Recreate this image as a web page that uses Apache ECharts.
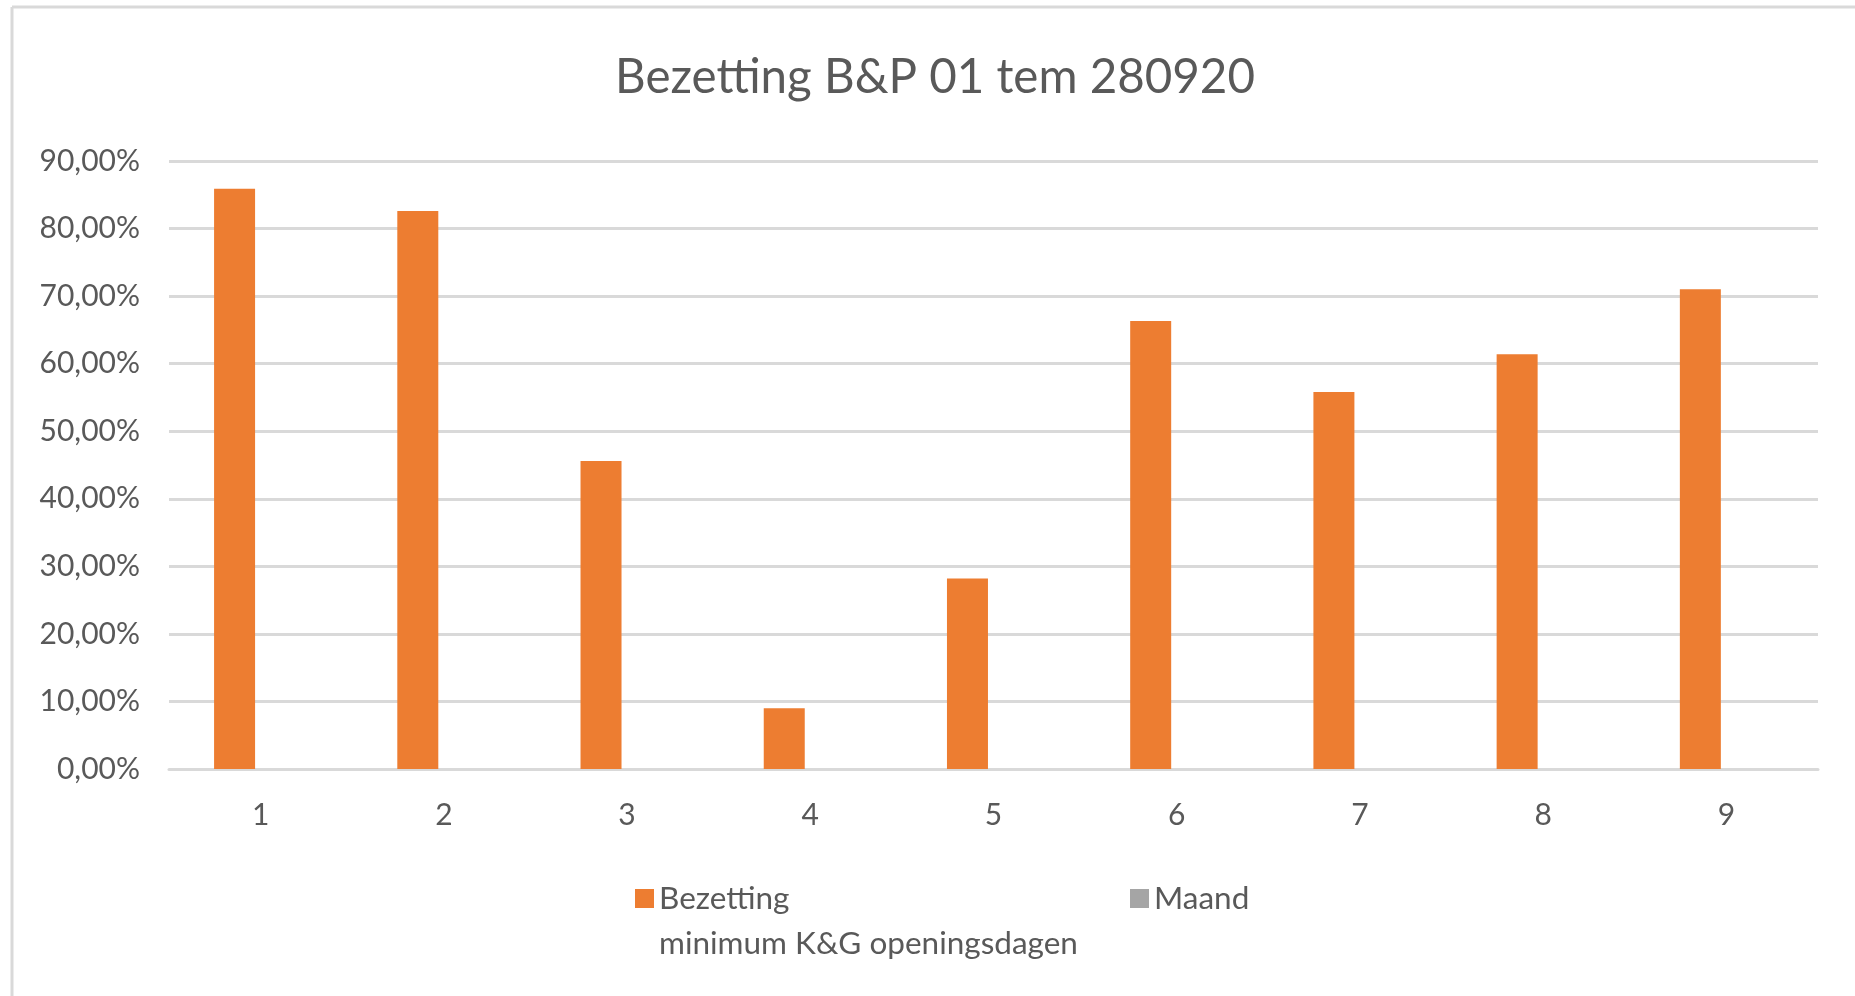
<!DOCTYPE html>
<html>
<head>
<meta charset="utf-8">
<script src="https://cdn.jsdelivr.net/npm/echarts@6/dist/echarts.min.js"></script>
<style>
html,body{margin:0;padding:0;background:#fff;}
#chart{width:1855px;height:996px;}
</style>
</head>
<body>
<div id="chart"></div>
<script>
const categories = ['1','2','3','4','5','6','7','8','9'];
const bezetting = [0.859, 0.826, 0.456, 0.090, 0.282, 0.663, 0.558, 0.614, 0.710];
const maand = [0, 0, 0, 0, 0, 0, 0, 0, 0];
const seriesNames = ['Bezetting\nminimum K&G openingsdagen', 'Maand'];
const titleText = 'Bezetting B&P 01 tem 280920';

const FONT = 'Lato';
const TXT = '#595959';
const GRID = '#d9d9d9';

const chart = echarts.init(document.getElementById('chart'));
chart.setOption({
  backgroundColor: '#ffffff',
  animation: false,
  title: {
    text: titleText,
    left: 930, top: 49, textAlign: 'center',
    textStyle: {fontFamily: FONT, fontSize: 47.5, fontWeight: 'normal', color: TXT}
  },
  graphic: [
    {type: 'line', shape: {x1: 12, y1: 7, x2: 1855, y2: 7}, style: {stroke: GRID, lineWidth: 3}, silent: true},
    {type: 'line', shape: {x1: 12, y1: 7, x2: 12, y2: 996}, style: {stroke: GRID, lineWidth: 3}, silent: true}
  ],
  legend: [
    {
      data: [seriesNames[0]],
      left: 635, top: 831, padding: 0,
      itemWidth: 19, itemHeight: 19, icon: 'rect',
      formatter: name => '\n' + name,
      textStyle: {fontFamily: FONT, fontSize: 31.5, color: TXT, lineHeight: 45}
    },
    {
      data: [seriesNames[1]],
      left: 1130, top: 876, padding: 0,
      itemWidth: 19, itemHeight: 19, icon: 'rect',
      textStyle: {fontFamily: FONT, fontSize: 31.5, color: TXT, lineHeight: 45}
    }
  ],
  grid: {left: 169, right: 37, top: 161, bottom: 227, containLabel: false},
  xAxis: {
    type: 'category',
    data: categories,
    axisTick: {show: false},
    axisLine: {show: true, lineStyle: {color: GRID, width: 3}},
    axisLabel: {fontFamily: FONT, fontSize: 30, color: TXT, margin: 31}
  },
  yAxis: {
    type: 'value',
    min: 0, max: 0.9, interval: 0.1,
    axisLine: {show: false},
    axisTick: {show: false},
    splitLine: {lineStyle: {color: GRID, width: 3}},
    axisLabel: {
      fontFamily: FONT, fontSize: 30, color: TXT, margin: 29,
      formatter: v => (v * 100).toFixed(2).replace('.', ',') + '%'
    }
  },
  series: [
    {
      name: seriesNames[0], type: 'bar', data: bezetting,
      barWidth: 41, barGap: '27%',
      itemStyle: {color: '#ED7D31'}
    },
    {
      name: seriesNames[1], type: 'bar', data: maand,
      barWidth: 41,
      itemStyle: {color: '#A5A5A5'}
    }
  ]
});
</script>
</body>
</html>
